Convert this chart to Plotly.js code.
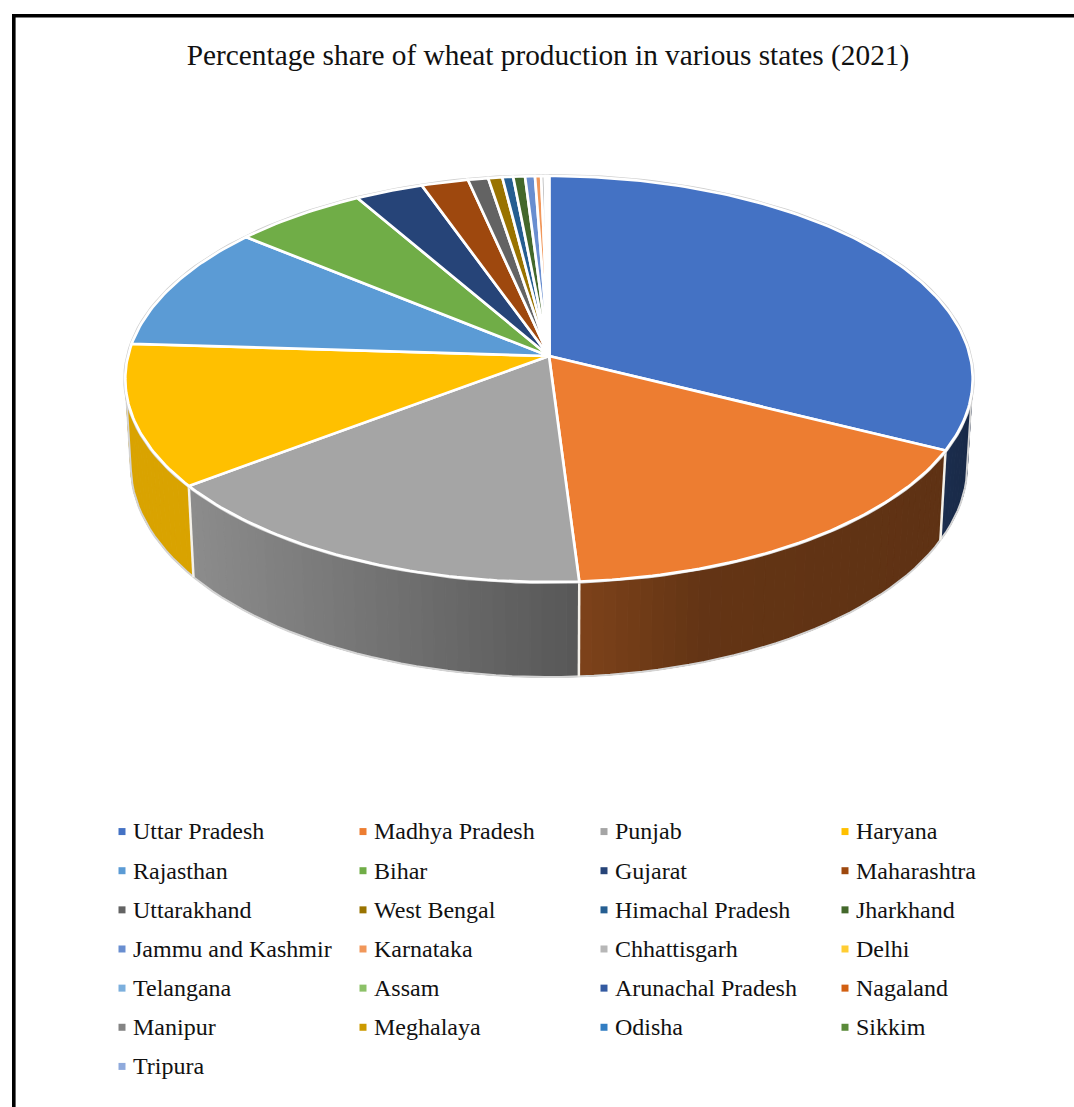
<!DOCTYPE html>
<html>
<head>
<meta charset="utf-8">
<script src="https://cdn.plot.ly/plotly-3.0.1.min.js"></script>
<style>html,body{margin:0;padding:0;background:#fff}#chart{width:1074px;height:1107px}</style>
</head>
<body>
<div id="chart"></div>
<script>
var states = ["Uttar Pradesh","Madhya Pradesh","Punjab","Haryana","Rajasthan","Bihar","Gujarat","Maharashtra","Uttarakhand","West Bengal","Himachal Pradesh","Jharkhand","Jammu and Kashmir","Karnataka","Chhattisgarh","Delhi","Telangana","Assam","Arunachal Pradesh","Nagaland","Manipur","Meghalaya","Odisha","Sikkim","Tripura"];
var shares = [32.4,16.6,15.7,11.3,10.0,5.7,2.9,2.0,0.86,0.6,0.46,0.5,0.42,0.26,0.16,0.08,0.04,0.03,0.005,0.005,0.004,0.003,0.002,0.001,0.001];
var colors = ["#4472C4","#ED7D31","#A5A5A5","#FFC000","#5B9BD5","#70AD47","#264478","#9E480E","#636363","#997300","#255E91","#43682B","#698ED0","#F1975A","#B7B7B7","#FFCD33","#7CAFDD","#8CC168","#335AA1","#D26012","#848484","#CC9A00","#327DC2","#5A8A39","#8FAADC"];
var chartTitle = "Percentage share of wheat production in various states (2021)";

var W = 1074, H = 1107;
var CX = 549, CY = 356, A = 421, B = 200.4, K = 0.1133;
var BOTX = 0.987, BOTY = 1.04, DROP = 86;
var SERIF = "Liberation Serif, Times New Roman, serif";

function topPt(t){
  var u = Math.sin(t), v = -Math.cos(t), w = 1 - K*v;
  return [CX + A*u/w, CY + B*v/w];
}
function botPt(t){
  var p = topPt(t);
  return [CX + (p[0]-CX)*BOTX, CY + (p[1]-CY)*BOTY + DROP];
}
function shadeAt(x){
  var xs = [190,578,700,940,975], fs = [0.85,0.53,0.42,0.40,0.36];
  if (x <= xs[0]) return fs[0];
  for (var i=1;i<xs.length;i++) if (x <= xs[i]) return fs[i-1]+(fs[i]-fs[i-1])*(x-xs[i-1])/(xs[i]-xs[i-1]);
  return fs[fs.length-1];
}
function shade(hex,f){
  var n = parseInt(hex.slice(1),16);
  return "rgb("+Math.round((n>>16&255)*f)+","+Math.round((n>>8&255)*f)+","+Math.round((n&255)*f)+")";
}

var total = shares.reduce(function(a,b){return a+b;},0);
var edges = [0];
shares.forEach(function(s,i){ edges.push(edges[i] + s/total*2*Math.PI); });

var traces = [];
function off(tr){ tr.showlegend=false; tr.hoverinfo="skip"; tr.type="scatter"; traces.push(tr); return tr; }

// side wall strips: slices that face the viewer, painted back to front
var start = 60*Math.PI/180, STEP = 1.5*Math.PI/180;
var strips = [];
for (var i=0;i<4;i++){
  var a = Math.max(edges[i],start), b = edges[i+1];
  if (b <= a) continue;
  var n = Math.max(1,Math.ceil((b-a)/STEP));
  for (var j=0;j<n;j++){
    var t0 = a+(b-a)*j/n, t1 = a+(b-a)*(j+1)/n;
    strips.push({i:i,t0:t0,t1:t1,d:Math.abs((t0+t1)/2-Math.PI)});
  }
}
strips.sort(function(p,q){return q.d-p.d;});
strips.forEach(function(s){
  var p=[topPt(s.t0),topPt(s.t1),botPt(s.t1),botPt(s.t0),topPt(s.t0)];
  var col = shade(colors[s.i],shadeAt((p[0][0]+p[1][0])/2));
  off({x:p.map(function(q){return q[0];}),y:p.map(function(q){return q[1];}),mode:"lines",fill:"toself",fillcolor:col,line:{color:col,width:1}});
});
// outline of the wall: widest point of the top face, down, around the bottom, and back up
var RIM0 = 96.5, RIM1 = 263.5;
var p0 = topPt(RIM0*Math.PI/180), p1 = topPt(RIM1*Math.PI/180);
var rx=[p0[0]],ry=[p0[1]];
for (var d=RIM0;d<=RIM1+0.01;d+=2){ var b0=botPt(d*Math.PI/180); rx.push(b0[0]); ry.push(b0[1]); }
rx.push(p1[0]); ry.push(p1[1]);
off({x:rx,y:ry,mode:"lines",line:{color:"#d4d4d4",width:2}});
// white seams on the wall
[1,2,3].forEach(function(i){
  var p=topPt(edges[i]), q=botPt(edges[i]);
  off({x:[p[0],q[0]],y:[p[1],q[1]],mode:"lines",line:{color:"#f4f1ea",width:2.5}});
});
// outer rim of top face
var ex=[],ey=[];
for (var d2=0;d2<=360;d2+=2){ var e0=topPt(d2*Math.PI/180); ex.push(e0[0]); ey.push(e0[1]); }
off({x:ex,y:ey,mode:"lines",line:{color:"#cfcfcf",width:4}});
// top face slices
shares.forEach(function(s,i){
  var xs=[CX], ys=[CY], a=edges[i], b=edges[i+1], n=Math.max(1,Math.ceil((b-a)/(Math.PI/180)));
  for (var j=0;j<=n;j++){ var p=topPt(a+(b-a)*j/n); xs.push(p[0]); ys.push(p[1]); }
  xs.push(CX); ys.push(CY);
  off({x:xs,y:ys,mode:"lines",fill:"toself",fillcolor:colors[i],line:{color:"#ffffff",width:2.7,shape:"linear"}});
});
// legend entries
states.forEach(function(name,i){
  traces.push({type:"scatter",mode:"markers",x:[null],y:[null],name:'<span style="font-size:24px">'+name+'</span>',
    marker:{symbol:"square",size:7,color:colors[i]},hoverinfo:"skip",showlegend:true});
});

var px = function(v){return v/W;}, py = function(v){return 1-v/H;};
var layout = {
  width:W,height:H,margin:{l:0,r:0,t:0,b:0,pad:0},paper_bgcolor:"#fff",plot_bgcolor:"#fff",
  title:{text:chartTitle,x:px(548),xanchor:"center",xref:"paper",y:py(55),yanchor:"middle",yref:"paper",font:{family:SERIF,size:29.3,color:"#111"}},
  xaxis:{range:[0,W],visible:false,fixedrange:true},
  yaxis:{range:[H,0],visible:false,fixedrange:true},
  legend:{orientation:"h",x:px(93),xanchor:"left",y:py(804),yanchor:"top",bgcolor:"rgba(0,0,0,0)",
    font:{family:SERIF,size:27.8,color:"#111"},entrywidth:196,entrywidthmode:"pixels",itemwidth:30,traceorder:"normal"},
  shapes:[
    {type:"line",xref:"paper",yref:"paper",x0:px(13.8),x1:1,y0:py(15.7),y1:py(15.7),line:{color:"#000",width:3.6}},
    {type:"line",xref:"paper",yref:"paper",x0:px(13.8),x1:px(13.8),y0:py(14),y1:0,line:{color:"#000",width:3.6}}
  ]
};
Plotly.newPlot("chart",traces,layout,{displayModeBar:false,staticPlot:true}).then(function(gd){
  gd.querySelectorAll(".legendsymbols").forEach(function(g){ g.setAttribute("transform","translate(9,3)"); });
});
</script>
</body>
</html>
